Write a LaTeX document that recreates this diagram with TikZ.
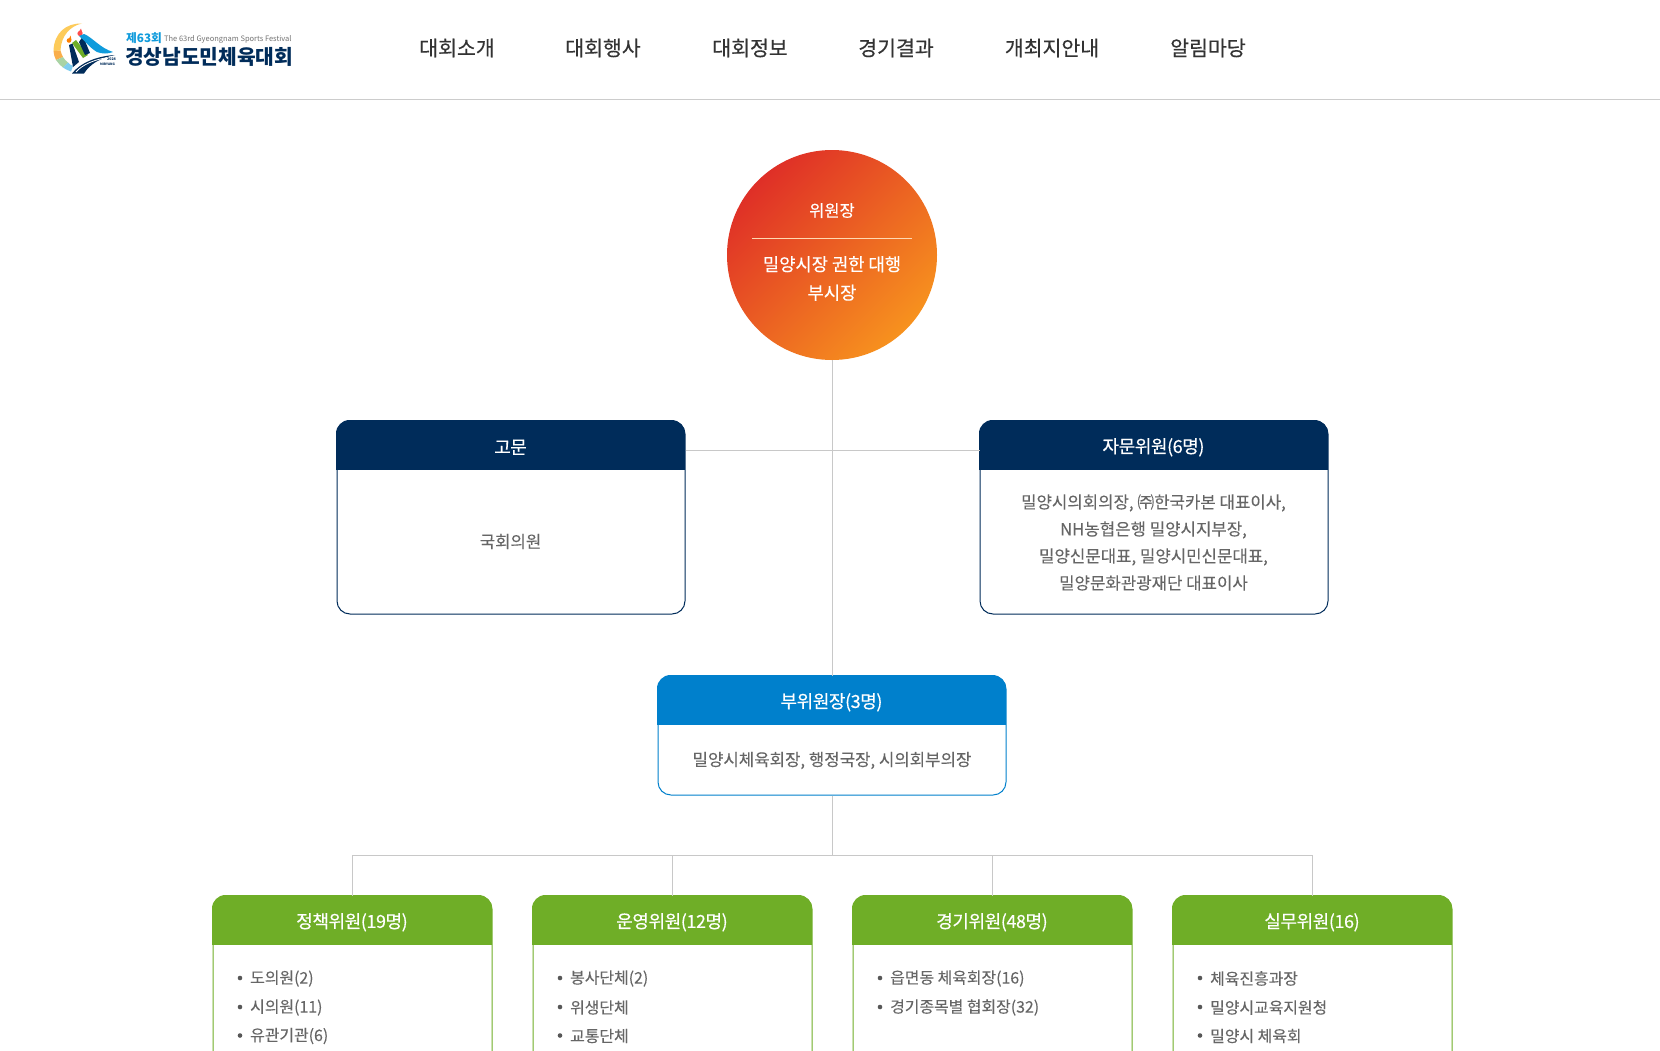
\documentclass[tikz,border=0pt]{standalone}
\usepackage{fontspec}
\setmainfont{Noto Sans CJK KR}
\newfontfamily\medfont[FakeBold=0.35]{Noto Sans CJK KR}
\newfontfamily\headfont[FakeBold=0.35,LetterSpace=-2.4]{Noto Sans CJK KR}
\newfontfamily\bodyfont[FakeBold=0.1]{Noto Sans CJK KR}
\usetikzlibrary{calc}
\definecolor{navybox}{HTML}{002C5A}
\definecolor{bluebox}{HTML}{0080CC}
\definecolor{greenbox}{HTML}{6FAE27}
\definecolor{bodytext}{HTML}{666666}
\definecolor{linegray}{HTML}{C8C8C8}
\definecolor{menutext}{HTML}{333333}
\definecolor{logoblue}{HTML}{0F9BDC}
\definecolor{chaira}{HTML}{DF2F27}
\definecolor{chairb}{HTML}{F7921E}
\definecolor{logoyellow}{HTML}{FDCB5A}
\definecolor{logoorange}{HTML}{F9AE4B}
\definecolor{logosage}{HTML}{A9D3A5}
\definecolor{logosky}{HTML}{7FCDF0}
\tikzset{
 x=1pt,y=-1pt,
 conn/.style={draw=linegray,line width=1pt},
 menuitem/.style={font=\medfont\fontsize{20.5}{24}\selectfont,text=menutext,inner sep=0pt},
 boxshape/.style={draw=#1,line width=1pt,rounded corners=13pt,fill=white,inner sep=0pt},
 headtext/.style={font=\headfont\fontsize{18}{22}\selectfont,text=white,inner sep=0pt},
 bodylabel/.style={font=\bodyfont\fontsize{16.75}{27}\selectfont,text=bodytext,align=center,inner sep=0pt},
 listlabel/.style={font=\bodyfont\fontsize{15.9}{20}\selectfont,text=bodytext,anchor=west,inner sep=0pt},
}
% name, x0, y0, x1, y1, header bottom, colour, title
\newcommand{\orgbox}[8]{%
 \node[boxshape=#7,minimum width={#4-#2},minimum height={#5-#3},anchor=north west] (#1) at (#2,#3) {};
 \begin{scope}
  \clip[rounded corners=13.5pt] ({#2-0.5},{#3-0.5}) rectangle ({#4+0.5},{#5+0.5});
  \fill[#7] ({#2-0.5},{#3-0.5}) rectangle ({#4+0.5},#6);
 \end{scope}
 \node[headtext] (#1head) at ({(#2+#4)/2},{(#3+#6)/2+2}) {#8};
}
\newcommand{\listrow}[4]{%
 \fill[bodytext!85!black] (#1+28,#2) circle (2.3);
 \node[listlabel] (#3) at (#1+38,#2+0.5) {#4};
}
\begin{document}
\begin{tikzpicture}
\clip (0,0) rectangle (1660,1050);
\useasboundingbox (0,0) rectangle (1660,1050);
\fill[white] (0,0) rectangle (1660,1050);
% top bar
\draw[line width=1.3pt,draw=black!20] (0,99.5) -- (1660,99.5);
% logo emblem
\fill[logoyellow] (82,23.5) .. controls (66,23) and (54,33) .. (53.5,51) -- (60.5,50.5) .. controls (61,36) and (70,26) .. (82,23.5) -- cycle;
\fill[logoorange] (53.5,51) .. controls (53.7,54) and (54.5,57) .. (56,60) -- (63,57) .. controls (62,55) and (61,53) .. (60.5,50.5) -- cycle;
\fill[logosage] (56,60) .. controls (58,63) and (60,65) .. (63,67.5) -- (68,62.5) .. controls (66,61) and (64,59) .. (63,57) -- cycle;
\fill[logosky] (63,67.5) .. controls (65,69) and (68,70.5) .. (71,71.5) -- (73,66) .. controls (71,65) and (69,64) .. (68,62.5) -- cycle;
\fill[orange] (69,40.5) circle (2.3);
\fill[orange] (68.5,40) -- (70.5,35.5) -- (71.5,40) -- cycle;
\fill[red!70] (80,33.5) circle (2.6);
\fill[red!70] (78,33) -- (81,28.5) -- (82.5,33) -- cycle;
\fill[navybox] (69,45) -- (72.5,43.5) -- (79,62) -- (73,67) -- cycle;
\fill[greenbox] (72,43) -- (76,40) -- (88,55) -- (83,58) -- cycle;
\fill[navybox] (79,42) -- (83,36) -- (90,53) -- (85,55) -- cycle;
\fill[logoblue] (79,36) -- (84,34) .. controls (92,37) and (100,48) .. (113,52) .. controls (108,54) and (102,54) .. (97,52) .. controls (90,48) and (85,41) .. (79,36) -- cycle;
\fill[navybox] (72,73.5) .. controls (80,63) and (97,56) .. (115,55) .. controls (100,58) and (90,64) .. (84,73.5) -- cycle;
\draw[white,line width=.8pt] (76,72) .. controls (82,65) and (94,59) .. (112,57);
\node[inner sep=0pt,font=\bfseries\fontsize{3.6}{4}\selectfont,text=navybox] (logoy) at (111.5,59.5) {2024};
\node[inner sep=0pt,font=\bfseries\fontsize{3.2}{4}\selectfont,text=navybox] (logom) at (107.5,64.5) {MIRYANG};
% logo text
\node[anchor=west,inner sep=0pt,font=\bfseries\fontsize{11.7}{13}\selectfont,text=logoblue] (logoa) at (126,38) {제63회};
\node[anchor=west,inner sep=0pt,font=\fontsize{7.5}{8}\selectfont,text=black!55] (logob) at (164,39.5) {The 63rd Gyeongnam Sports Festival};
\node[anchor=west,inner sep=0pt,font=\bfseries\fontsize{20.3}{24}\selectfont,text=navybox] (logoc) at (125,56.5) {경상남도민체육대회};
% menu
\node[menuitem] (m1) at (457,48) {대회소개};
\node[menuitem] (m2) at (603,48) {대회행사};
\node[menuitem] (m3) at (750,48) {대회정보};
\node[menuitem] (m4) at (896,48) {경기결과};
\node[menuitem] (m5) at (1052,48) {개최지안내};
\node[menuitem] (m6) at (1208,48) {알림마당};
% chair
\node[circle,minimum size=210pt,inner sep=0pt,left color=chaira,right color=chairb,shading angle=45] (chair) at (832,255) {};
% boxes
\orgbox{adv}{336.5}{420.5}{684.5}{613.5}{470}{navybox}{고문}
\orgbox{cons}{979.5}{420.5}{1327.5}{613.5}{470}{navybox}{자문위원(6명)}
\orgbox{vice}{657.5}{675.5}{1005.5}{794.5}{725}{bluebox}{부위원장(3명)}
\orgbox{pol}{212.5}{895.5}{491.5}{1080}{945}{greenbox}{정책위원(19명)}
\orgbox{ops}{532.5}{895.5}{811.5}{1080}{945}{greenbox}{운영위원(12명)}
\orgbox{game}{852.5}{895.5}{1131.5}{1080}{945}{greenbox}{경기위원(48명)}
\orgbox{work}{1172.5}{895.5}{1451.5}{1080}{945}{greenbox}{실무위원(16)}
% chair text
\node[font=\medfont\fontsize{16.5}{20}\selectfont,text=white,inner sep=0pt] (chairt) at (832,210.5) {위원장};
\draw[white!70!orange,line width=.8pt] (752,238) -- (912,238);
\node[font=\medfont\fontsize{17.7}{28.5}\selectfont,text=white,align=center,inner sep=0pt] (chairn) at (832,278.5) {밀양시장 권한 대행\\부시장};
% body text
\node[bodylabel] (advt) at (510.5,541.5) {국회의원};
\node[bodylabel] (const) at (1153.5,542.5) {밀양시의회의장, ㈜한국카본 대표이사,\\NH농협은행 밀양시지부장,\\밀양신문대표, 밀양시민신문대표,\\밀양문화관광재단 대표이사};
\node[bodylabel] (vicet) at (832,760.5) {밀양시체육회장, 행정국장, 시의회부의장};
% lists
\listrow{212}{978}{p1}{도의원(2)}
\listrow{212}{1007}{p2}{시의원(11)}
\listrow{212}{1035.5}{p3}{유관기관(6)}
\listrow{532}{978}{o1}{봉사단체(2)}
\listrow{532}{1007}{o2}{위생단체}
\listrow{532}{1035.5}{o3}{교통단체}
\listrow{852}{978}{g1}{읍면동 체육회장(16)}
\listrow{852}{1007}{g2}{경기종목별 협회장(32)}
\listrow{1172}{978}{w1}{체육진흥과장}
\listrow{1172}{1007}{w2}{밀양시교육지원청}
\listrow{1172}{1035.5}{w3}{밀양시 체육회}
% connectors
\coordinate (busA) at (832.5,450.5);
\coordinate (busB) at (832.5,855.5);
\draw[conn] (chair.south -| busA) -- (busA) -- (vice.north -| busA);
\draw[conn] (adv.east |- busA) -- (busA) -- (cons.west |- busA);
\draw[conn] (vice.south -| busA) -- (busB);
\draw[conn] (pol.north) -- (pol.north |- busB) -- (work.north |- busB) -- (work.north);
\draw[conn] (ops.north) -- (ops.north |- busB);
\draw[conn] (game.north) -- (game.north |- busB);
\end{tikzpicture}
\end{document}
